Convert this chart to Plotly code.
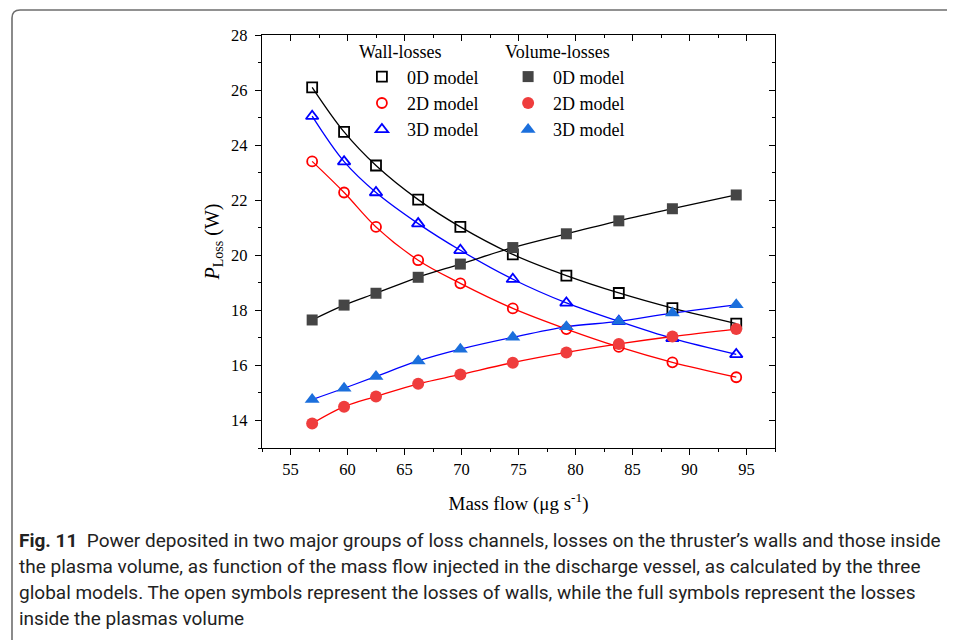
import plotly.graph_objects as go

# ---------------- data ----------------
mass_flow = [56.9, 59.7, 62.5, 66.2, 69.9, 74.5, 79.2, 83.8, 88.5, 94.1]

wall_0d = [26.10, 24.48, 23.26, 22.02, 21.03, 20.03, 19.26, 18.63, 18.08, 17.52]
wall_2d = [23.41, 22.28, 21.03, 19.82, 18.98, 18.07, 17.32, 16.67, 16.11, 15.57]
wall_3d = [25.05, 23.40, 22.28, 21.15, 20.18, 19.13, 18.27, 17.60, 16.98, 16.40]

vol_0d = [17.65, 18.19, 18.62, 19.20, 19.68, 20.28, 20.78, 21.25, 21.69, 22.19]
vol_2d = [13.89, 14.50, 14.87, 15.33, 15.67, 16.10, 16.47, 16.78, 17.05, 17.32]
vol_3d = [14.76, 15.17, 15.60, 16.16, 16.59, 17.02, 17.40, 17.60, 17.90, 18.20]

model_labels = ["0D model", "2D model", "3D model"]
x_ticks = [55, 60, 65, 70, 75, 80, 85, 90, 95]
y_ticks = [14, 16, 18, 20, 22, 24, 26, 28]

caption_lines = [
    "<b>Fig. 11</b>  Power deposited in two major groups of loss channels, losses on the thruster’s walls and those inside",
    "the plasma volume, as function of the mass flow injected in the discharge vessel, as calculated by the three",
    "global models. The open symbols represent the losses of walls, while the full symbols represent the losses",
    "inside the plasmas volume",
]

SERIF = "Liberation Serif, Times New Roman, serif"

fig = go.Figure()

wall_series = [
    (wall_0d, "#000000", "#000000", "square-open", 10),
    (wall_2d, "#ff0000", "#ff0000", "circle-open", 10),
    (wall_3d, "#0000ff", "#0000ff", "triangle-up-open", 11),
]
vol_series = [
    (vol_0d, "#000000", "#454545", "square", 11),
    (vol_2d, "#ff0000", "#ef3d3d", "circle", 12),
    (vol_3d, "#0000ff", "#1b6fdc", "triangle-up", 13),
]

# lines (no legend)
for ys, lc, mc, sym, sz in wall_series + vol_series:
    fig.add_trace(go.Scatter(
        x=mass_flow, y=ys, mode="lines",
        line=dict(color=lc, width=1.3, shape="spline", smoothing=1.0),
        showlegend=False, hoverinfo="skip"))

# markers (legend)
for (ys, lc, mc, sym, sz), lab in zip(wall_series, model_labels):
    fig.add_trace(go.Scatter(
        x=mass_flow, y=ys, mode="markers", name=lab, legend="legend",
        marker=dict(symbol=sym, size=sz, color=mc, line=dict(color=mc, width=1.8))))
for (ys, lc, mc, sym, sz), lab in zip(vol_series, model_labels):
    fig.add_trace(go.Scatter(
        x=mass_flow, y=ys, mode="markers", name=lab, legend="legend2",
        marker=dict(symbol=sym, size=sz, color=mc, line=dict(width=0))))

# invisible trace for mirrored axes
fig.add_trace(go.Scatter(x=[None], y=[None], xaxis="x2", yaxis="y2",
                         showlegend=False, hoverinfo="skip"))

X_RANGE = [52.5, 97.5]
Y_RANGE = [13, 28]

axis_common = dict(showgrid=False, zeroline=False, showline=True,
                   linecolor="#000000", linewidth=1.3,
                   tickcolor="#000000", tickwidth=1.3)

fig.update_layout(
    width=955, height=640,
    paper_bgcolor="white", plot_bgcolor="white",
    margin=dict(l=254, r=188, t=27, b=200),
    font=dict(family=SERIF, size=16, color="#000000"),
    xaxis=dict(range=X_RANGE, tickvals=x_ticks, ticks="outside", ticklen=6,
               minor=dict(dtick=2.5, tick0=52.5, ticks="outside", ticklen=3,
                          tickcolor="#000000", tickwidth=1.3),
               tickfont=dict(family=SERIF, size=16.5),
               title=dict(text="Mass flow (μg s<sup>-1</sup>)",
                          font=dict(family=SERIF, size=19), standoff=18),
               **axis_common),
    yaxis=dict(range=Y_RANGE, tickvals=y_ticks, ticks="outside", ticklen=6,
               minor=dict(dtick=1, tick0=13, ticks="outside", ticklen=3,
                          tickcolor="#000000", tickwidth=1.3),
               tickfont=dict(family=SERIF, size=16.5), ticklabelstandoff=4,
               title=dict(text="<i>P</i><sub>Loss</sub> (W)",
                          font=dict(family=SERIF, size=20), standoff=6),
               **axis_common),
    xaxis2=dict(range=X_RANGE, overlaying="x", side="top", anchor="y",
                tickvals=x_ticks, ticks="inside", ticklen=6, showticklabels=False,
                minor=dict(dtick=2.5, tick0=52.5, ticks="inside", ticklen=3,
                           tickcolor="#000000", tickwidth=1.3),
                **axis_common),
    yaxis2=dict(range=Y_RANGE, overlaying="y", side="right", anchor="x",
                tickvals=y_ticks, ticks="inside", ticklen=6, showticklabels=False,
                minor=dict(dtick=1, tick0=13, ticks="inside", ticklen=3,
                           tickcolor="#000000", tickwidth=1.3),
                **axis_common),
    legend=dict(x=0.185, y=1.0, xanchor="left", yanchor="top",
                bgcolor="rgba(0,0,0,0)", borderwidth=0,
                font=dict(family=SERIF, size=18),
                title=dict(text="Wall-losses", side="top",
                           font=dict(family=SERIF, size=18)),
                tracegroupgap=0, itemwidth=40),
    legend2=dict(x=0.47, y=1.0, xanchor="left", yanchor="top",
                 bgcolor="rgba(0,0,0,0)", borderwidth=0,
                 font=dict(family=SERIF, size=18),
                 title=dict(text="Volume-losses", side="top",
                            font=dict(family=SERIF, size=18)),
                 tracegroupgap=0, itemwidth=40),
)

# rounded border frame (paper coordinates; screen px -> paper)
def px_x(p):
    return (p - 262) / 513.0

def px_y(p):
    return (448 - p) / 413.0

r = 8
path = (f"M {px_x(12)},{px_y(700)} L {px_x(12)},{px_y(10 + r)} "
        f"Q {px_x(12)},{px_y(10)} {px_x(12 + r)},{px_y(10)} "
        f"L {px_x(1000)},{px_y(10)}")
fig.add_shape(type="path", path=path, xref="paper", yref="paper",
              line=dict(color="#6e6e6e", width=1.6))

# caption
cap_y = [540, 566, 592, 618]
for txt, yy in zip(caption_lines, cap_y):
    fig.add_annotation(text=txt, xref="paper", yref="paper",
                       x=px_x(17), y=px_y(yy), xanchor="left", yanchor="middle",
                       showarrow=False, align="left",
                       font=dict(family="Roboto, Noto Sans, sans-serif", size=19,
                                 color="#222222"))

fig.write_html("out.html")
